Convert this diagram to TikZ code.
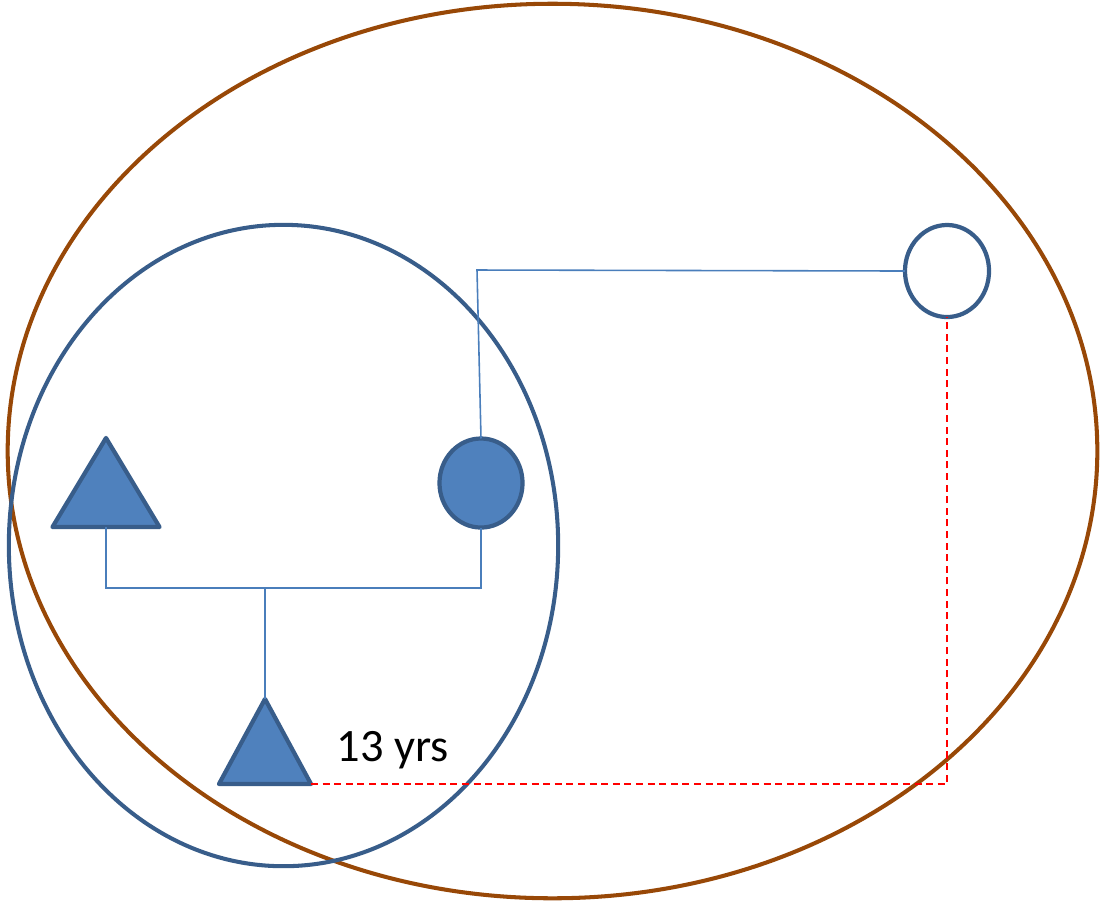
\documentclass[tikz,border=0pt]{standalone}
\usepackage{fontspec}
\setmainfont{Carlito}
\usepackage{tikz}
\usetikzlibrary{shapes.geometric,positioning}
\definecolor{rim}{HTML}{385D8A}
\definecolor{fillblue}{HTML}{4F81BD}
\definecolor{linkblue}{HTML}{4A7EBB}
\definecolor{clay}{HTML}{984807}
\begin{document}
\begin{tikzpicture}[
    x=0.01cm, y=-0.01cm,
    household/.style={draw=#1, line width=1.15pt, ellipse, inner sep=0pt, outer sep=0pt},
    maleshape/.style={draw=rim, fill=fillblue, line width=1.2pt, isosceles triangle, shape border rotate=90, isosceles triangle stretches, inner sep=0pt, outer sep=0pt, line join=round},
    femaleshape/.style={draw=rim, fill=fillblue, line width=1.2pt, ellipse, inner sep=0pt, outer sep=0pt},
    femaleopen/.style={draw=rim, fill=white, line width=1.2pt, ellipse, inner sep=0pt, outer sep=0pt},
    tie/.style={draw=linkblue, line width=0.45pt},
    dashtie/.style={draw=red, line width=0.45pt, dash pattern=on 2pt off 1.3pt}
]
\useasboundingbox (0,0) rectangle (1101,905);
\node[household=clay, minimum width=10.89cm, minimum height=8.94cm] (world) at (552.5,451) {};
\node[household=rim, minimum width=5.49cm, minimum height=6.41cm] (home) at (283.5,545.5) {};
\node[maleshape, minimum width=1.07cm, minimum height=0.89cm, anchor=south] (father) at (106,527) {};
\node[femaleshape, minimum width=0.83cm, minimum height=0.89cm] (mother) at (481,483) {};
\node[maleshape, minimum width=0.92cm, minimum height=0.85cm, anchor=south] (son) at (265,784) {};
\node[femaleopen, minimum width=0.84cm, minimum height=0.92cm] (partner) at (947,271) {};
\node[anchor=base west, inner sep=0pt, font=\fontsize{13.2pt}{15pt}\selectfont] (age) at (336,761) {13 yrs};
\coordinate (knot) at (477,270);
\coordinate (bar) at (106,588);
\draw[tie] (mother.north) -- (knot) -- (partner.west);
\draw[tie] (father.south) -- (bar) -| (mother.south);
\draw[tie] (son.apex) -- (son.apex |- bar);
\draw[dashtie] (son.right corner) -| (partner.south);
\end{tikzpicture}
\end{document}
